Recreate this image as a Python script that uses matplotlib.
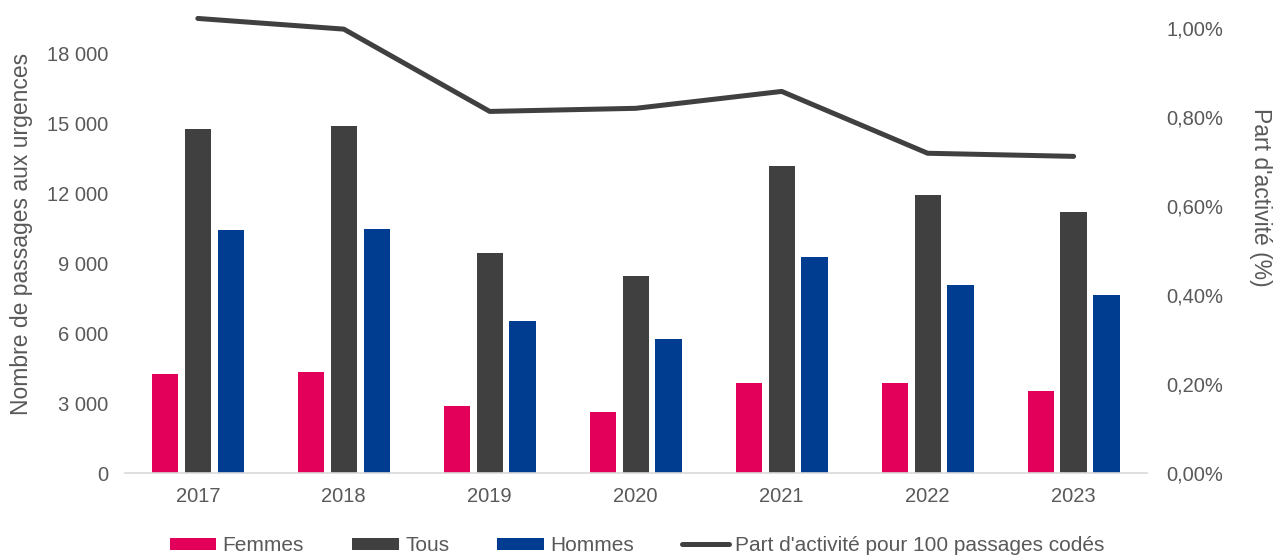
import matplotlib
matplotlib.use("Agg")
import matplotlib.pyplot as plt
from matplotlib.ticker import FuncFormatter
import numpy as np

years = ["2017", "2018", "2019", "2020", "2021", "2022", "2023"]
femmes = [4250, 4330, 2870, 2610, 3860, 3860, 3510]
tous = [14750, 14870, 9430, 8440, 13160, 11910, 11190]
hommes = [10410, 10460, 6510, 5740, 9260, 8060, 7630]
part = [1.022, 0.998, 0.813, 0.820, 0.858, 0.719, 0.712]

c_f = "#E2005A"
c_t = "#404040"
c_h = "#003C8F"
txt = "#595959"

plt.rcParams["font.family"] = ["Liberation Sans", "DejaVu Sans"]

fig = plt.figure(figsize=(12.74, 5.56), dpi=100)
ax = fig.add_axes([0.098, 0.149, 0.802, 0.829])
ax2 = ax.twinx()

x = np.arange(len(years))
w = 0.18
off = 0.225
ax.bar(x - off, femmes, w, color=c_f, label="Femmes")
ax.bar(x, tous, w, color=c_t, label="Tous")
ax.bar(x + off, hommes, w, color=c_h, label="Hommes")
ax2.plot(x, part, color=c_t, lw=3.6, solid_capstyle="round",
         label="Part d'activité pour 100 passages codés")

ymax_l = 19757
ax.set_ylim(0, ymax_l)
ax2.set_ylim(0, ymax_l / 19071 * 1.0)
ax.set_xlim(-0.5, len(years) - 0.5)

ax.set_yticks(np.arange(0, 18001, 3000))
ax.yaxis.set_major_formatter(FuncFormatter(lambda v, p: f"{int(v):,}".replace(",", " ")))
ax2.set_yticks(np.arange(0, 1.01, 0.2))
ax2.yaxis.set_major_formatter(FuncFormatter(lambda v, p: f"{v:.2f}%".replace(".", ",")))
ax.set_xticks(x)
ax.set_xticklabels(years)

for a in (ax, ax2):
    for s in a.spines.values():
        s.set_visible(False)
    a.tick_params(length=0, colors=txt, labelsize=14.5)
ax.spines["bottom"].set_visible(True)
ax.spines["bottom"].set_color("#D9D9D9")
ax.spines["bottom"].set_linewidth(1.2)
ax.tick_params(axis="y", pad=12)
ax.tick_params(axis="x", pad=10)
ax2.tick_params(axis="y", pad=14)

ax.set_ylabel("Nombre de passages aux urgences", color=txt, fontsize=16.5)
ax2.set_ylabel("Part d'activité (%)", color=txt, fontsize=16.5, rotation=270)
ax.yaxis.label.set_verticalalignment("center")
ax2.yaxis.label.set_verticalalignment("center")
ax.yaxis.set_label_coords(-0.101, 0.52)
ax2.yaxis.set_label_coords(1.111, 0.599)

h1, l1 = ax.get_legend_handles_labels()
h2, l2 = ax2.get_legend_handles_labels()
leg = fig.legend(h1 + h2, l1 + l2, loc="lower center", bbox_to_anchor=(0.5, -0.032),
                 ncol=4, frameon=False, fontsize=15, handlelength=2.25, handleheight=0.5,
                 columnspacing=2.3, handletextpad=0.3)
for t in leg.get_texts():
    t.set_color(txt)

fig.savefig("out.png", dpi=100)
